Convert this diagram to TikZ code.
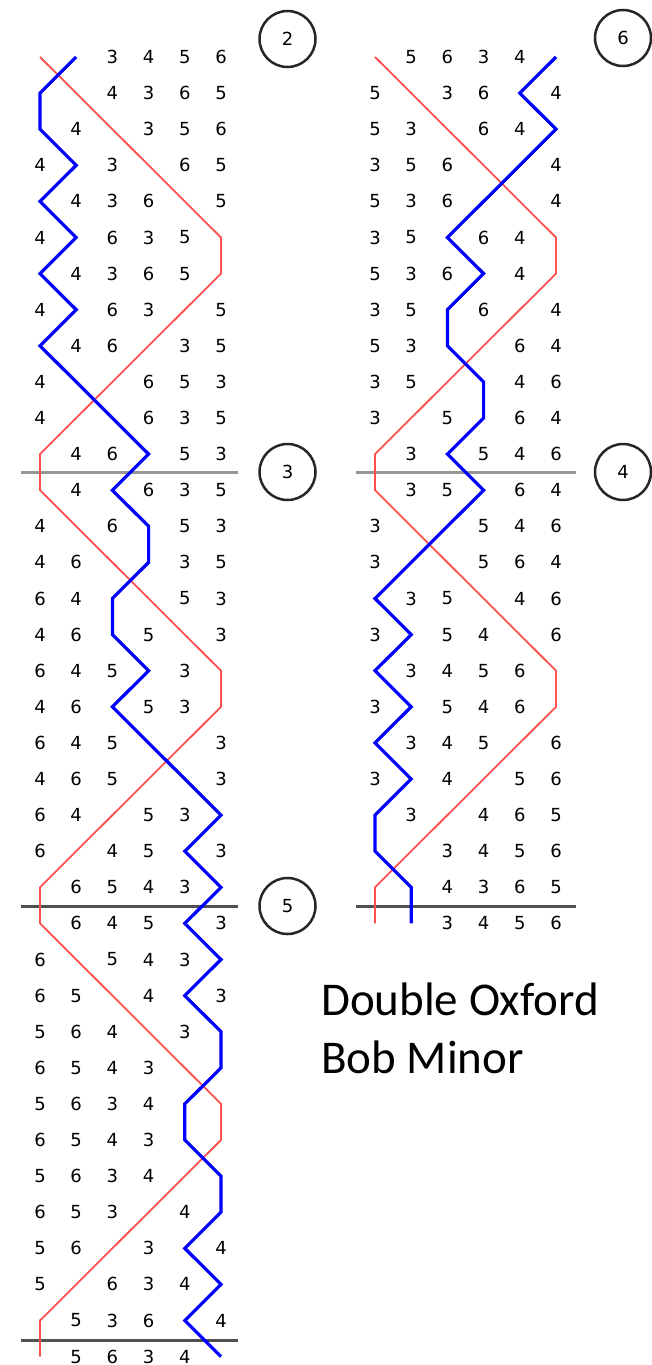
\documentclass[tikz,border=0pt]{standalone}
\usepackage{fontspec}
\newfontfamily\digfont{DejaVu Sans}
\newfontfamily\titlefont{Carlito}
\definecolor{treble}{RGB}{255,80,80}
\definecolor{workbell}{RGB}{0,0,255}
\definecolor{leadlineA}{RGB}{150,150,150}
\definecolor{leadlineB}{RGB}{80,80,80}
\begin{document}
\begin{tikzpicture}[x=1pt,y=-1pt,
  dig/.style={font=\digfont\fontsize{18}{18}\selectfont, inner sep=0pt, anchor=center},
  trebleline/.style={draw=treble, line width=1.8pt},
  bellline/.style={draw=workbell, line width=3.2pt},
  leadend/.style={line width=3pt},
  placebell/.style={circle, draw=black!85, line width=2.5pt, minimum size=56pt, inner sep=0pt, font=\digfont\fontsize{18}{18}\selectfont},
  titletext/.style={font=\titlefont\fontsize{47}{56}\selectfont, anchor=base west, inner sep=0pt}]
\path[use as bounding box] (0,0) rectangle (652,1365);

% lead-end lines
\draw[leadend, draw=leadlineA] (21,472) -- (238,472);
\draw[leadend, draw=leadlineB] (21,906.5) -- (238,906.5);
\draw[leadend, draw=leadlineB] (21,1340) -- (238,1340);
\draw[leadend, draw=leadlineA] (356,472) -- (576,472);
\draw[leadend, draw=leadlineB] (356,906.5) -- (576,906.5);

% left column
\foreach \a/\b/\c/\d/\e/\f [count=\i from 0] in {%
1/2/3/4/5/6,2/1/4/3/6/5,2/4/1/3/5/6,4/2/3/1/6/5,2/4/3/6/1/5,4/2/6/3/5/1,%
2/4/3/6/5/1,4/2/6/3/1/5,2/4/6/1/3/5,4/2/1/6/5/3,4/1/2/6/3/5,1/4/6/2/5/3,%
1/4/2/6/3/5,4/1/6/2/5/3,4/6/1/2/3/5,6/4/2/1/5/3,4/6/2/5/1/3,6/4/5/2/3/1,%
4/6/2/5/3/1,6/4/5/2/1/3,4/6/5/1/2/3,6/4/1/5/3/2,6/1/4/5/2/3,1/6/5/4/3/2,%
1/6/4/5/2/3,6/1/5/4/3/2,6/5/1/4/2/3,5/6/4/1/3/2,6/5/4/3/1/2,5/6/3/4/2/1,%
6/5/4/3/2/1,5/6/3/4/1/2,6/5/3/1/4/2,5/6/1/3/2/4,5/1/6/3/4/2,1/5/3/6/2/4,%
1/5/6/3/4/2}{%
  \foreach \v [count=\k] in {\a,\b,\c,\d,\e,\f}{%
    \ifnum\v=1 \coordinate (L1-\i) at ({40+36.2*(\k-1)},{57+36.1*\i});%
    \else\ifnum\v=2 \coordinate (L2-\i) at ({40+36.2*(\k-1)},{57+36.1*\i});%
    \else \node[dig] (L-\i-\k) at ({40+36.2*(\k-1)},{57+36.1*\i}) {\v};%
    \fi\fi
  }%
}

% right column
\foreach \a/\b/\c/\d/\e/\f [count=\i from 0] in {%
1/5/6/3/4/2,5/1/3/6/2/4,5/3/1/6/4/2,3/5/6/1/2/4,5/3/6/2/1/4,3/5/2/6/4/1,%
5/3/6/2/4/1,3/5/2/6/1/4,5/3/2/1/6/4,3/5/1/2/4/6,3/1/5/2/6/4,1/3/2/5/4/6,%
1/3/5/2/6/4,3/1/2/5/4/6,3/2/1/5/6/4,2/3/5/1/4/6,3/2/5/4/1/6,2/3/4/5/6/1,%
3/2/5/4/6/1,2/3/4/5/1/6,3/2/4/1/5/6,2/3/1/4/6/5,2/1/3/4/5/6,1/2/4/3/6/5,%
1/2/3/4/5/6}{%
  \foreach \v [count=\k] in {\a,\b,\c,\d,\e,\f}{%
    \ifnum\v=1 \coordinate (R1-\i) at ({375+36.2*(\k-1)},{57+36.1*\i});%
    \else\ifnum\v=2 \coordinate (R2-\i) at ({375+36.2*(\k-1)},{57+36.1*\i});%
    \else \node[dig] (R-\i-\k) at ({375+36.2*(\k-1)},{57+36.1*\i}) {\v};%
    \fi\fi
  }%
}

% treble and working-bell lines
\draw[trebleline] (L1-0) \foreach \i in {1,...,36}{ -- (L1-\i)};
\draw[bellline] (L2-0) \foreach \i in {1,...,36}{ -- (L2-\i)};
\draw[trebleline] (R1-0) \foreach \i in {1,...,24}{ -- (R1-\i)};
\draw[bellline] (R2-0) \foreach \i in {1,...,24}{ -- (R2-\i)};

% place-bell circles
\node[placebell] (pb2) at (287.5,39) {2};
\node[placebell] (pb3) at (287.5,472) {3};
\node[placebell] (pb5) at (287.5,906) {5};
\node[placebell] (pb6) at (623,38) {6};
\node[placebell] (pb4) at (623,472) {4};

% title
\node[titletext] (title1) at (321,1015) {Double Oxford};
\node[titletext] (title2) at (321,1073) {Bob Minor};
\end{tikzpicture}
\end{document}
